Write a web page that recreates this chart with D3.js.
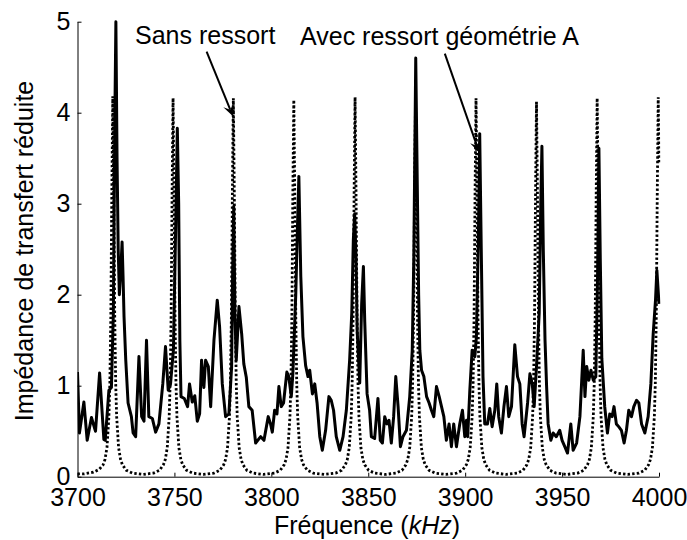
<!DOCTYPE html>
<html><head><meta charset="utf-8">
<script src="https://cdn.jsdelivr.net/npm/d3@7"></script>
<style>
body{margin:0;background:#fff}
svg{display:block}
text{font-family:"Liberation Sans",Arial,sans-serif;fill:#000}
</style>
</head><body>
<svg id="chart" width="687" height="540"></svg>
<script>
// ---------- data ----------
const xTicks = [3700, 3750, 3800, 3850, 3900, 3950, 4000];
const xTickLabels = ["3700", "3750", "3800", "3850", "3900", "3950", "4000"];
const yTicks = [0, 1, 2, 3, 4, 5];
const yTickLabels = ["0", "1", "2", "3", "4", "5"];
const yTitle = "Impédance de transfert réduite";
const xTitleMain = "Fréquence (";
const xTitleUnit = "kHz";
const xTitleEnd = ")";
const seriesNames = ["Sans ressort", "Avec ressort géométrie A"];

// "Sans ressort" (dotted) : [frequency kHz, reduced impedance]
const sansRessort = [
[3700,0.03],[3703,0.03],[3708.2,0.05],[3711.2,0.08],[3713.2,0.13],[3714.2,0.19],[3715.2,0.32],[3716.2,0.66],[3716.7,1.03],[3717.2,1.77],[3717.7,3.10],[3718.2,4.18],[3718.7,3.10],[3719.2,1.77],[3719.7,1.03],[3720.2,0.66],[3721.2,0.32],[3722.2,0.19],[3723.2,0.13],[3725.2,0.07],[3728.2,0.04],[3733.75,0.025],
[3739.3,0.04],[3742.3,0.07],[3744.3,0.13],[3745.3,0.19],[3746.3,0.32],[3747.3,0.66],[3747.8,1.03],[3748.3,1.77],[3748.8,3.10],[3749.3,4.16],[3749.8,3.10],[3750.3,1.77],[3750.8,1.03],[3751.3,0.66],[3752.3,0.32],[3753.3,0.19],[3754.3,0.13],[3756.3,0.07],[3759.3,0.04],[3764.85,0.025],
[3770.4,0.04],[3773.4,0.07],[3775.4,0.13],[3776.4,0.19],[3777.4,0.32],[3778.4,0.66],[3778.9,1.03],[3779.4,1.77],[3779.9,3.10],[3780.4,4.16],[3780.9,3.10],[3781.4,1.77],[3781.9,1.03],[3782.4,0.66],[3783.4,0.32],[3784.4,0.19],[3785.4,0.13],[3787.4,0.07],[3790.4,0.04],[3796.0,0.025],
[3801.6,0.04],[3804.6,0.07],[3806.6,0.13],[3807.6,0.19],[3808.6,0.32],[3809.6,0.66],[3810.1,1.03],[3810.6,1.77],[3811.1,3.10],[3811.6,4.14],[3812.1,3.10],[3812.6,1.77],[3813.1,1.03],[3813.6,0.66],[3814.6,0.32],[3815.6,0.19],[3816.6,0.13],[3818.6,0.07],[3821.6,0.04],[3827.4,0.025],
[3833.2,0.04],[3836.2,0.07],[3838.2,0.13],[3839.2,0.19],[3840.2,0.32],[3841.2,0.66],[3841.7,1.03],[3842.2,1.77],[3842.7,3.10],[3843.2,4.17],[3843.7,3.10],[3844.2,1.77],[3844.7,1.03],[3845.2,0.66],[3846.2,0.32],[3847.2,0.19],[3848.2,0.13],[3850.2,0.07],[3853.2,0.04],[3858.8,0.025],
[3864.4,0.04],[3867.4,0.07],[3869.4,0.13],[3870.4,0.19],[3871.4,0.32],[3872.4,0.66],[3872.9,1.03],[3873.4,1.77],[3873.9,3.10],[3874.4,4.15],[3874.9,3.10],[3875.4,1.77],[3875.9,1.03],[3876.4,0.66],[3877.4,0.32],[3878.4,0.19],[3879.4,0.13],[3881.4,0.07],[3884.4,0.04],[3890.0,0.025],
[3895.6,0.04],[3898.6,0.07],[3900.6,0.13],[3901.6,0.19],[3902.6,0.32],[3903.6,0.66],[3904.1,1.03],[3904.6,1.77],[3905.1,3.10],[3905.6,4.16],[3906.1,3.10],[3906.6,1.77],[3907.1,1.03],[3907.6,0.66],[3908.6,0.32],[3909.6,0.19],[3910.6,0.13],[3912.6,0.07],[3915.6,0.04],[3921.2,0.025],
[3926.8,0.04],[3929.8,0.07],[3931.8,0.13],[3932.8,0.19],[3933.8,0.32],[3934.8,0.66],[3935.3,1.03],[3935.8,1.77],[3936.3,3.10],[3936.8,4.12],[3937.3,3.10],[3937.8,1.77],[3938.3,1.03],[3938.8,0.66],[3939.8,0.32],[3940.8,0.19],[3941.8,0.13],[3943.8,0.07],[3946.8,0.04],[3952.45,0.025],
[3958.1,0.04],[3961.1,0.07],[3963.1,0.13],[3964.1,0.19],[3965.1,0.32],[3966.1,0.66],[3966.6,1.03],[3967.1,1.77],[3967.6,3.10],[3968.1,4.16],[3968.6,3.10],[3969.1,1.77],[3969.6,1.03],[3970.1,0.66],[3971.1,0.32],[3972.1,0.19],[3973.1,0.13],[3975.1,0.07],[3978.1,0.04],[3983.85,0.025],
[3989.6,0.04],[3992.6,0.07],[3994.6,0.13],[3995.6,0.19],[3996.6,0.32],[3997.6,0.66],[3998.1,1.03],[3998.6,1.77],[3999.1,3.10],[3999.6,4.17],[4000,3.43]
];

// "Avec ressort géométrie A" (solid) : [frequency kHz, reduced impedance]
const avecRessort = [
[3700.0,1.15],[3701.0,0.48],[3703.3,0.82],[3705.0,0.40],[3707.2,0.65],[3709.3,0.50],[3711.4,1.14],[3713.6,0.41],[3714.3,0.40],[3716.2,0.95],[3717.5,0.98],[3718.5,1.80],[3719.3,4.00],[3719.8,5.00],[3720.4,3.50],[3721.0,2.50],[3721.6,2.00],[3722.4,2.30],[3723.0,2.58],[3723.5,2.20],[3724.0,1.76],[3724.9,1.28],[3726.1,0.81],[3727.8,0.66],[3728.7,0.48],[3730.0,0.44],[3731.7,1.32],[3733.1,0.66],[3734.3,0.61],[3735.6,1.50],[3736.8,0.66],[3738.6,0.64],[3740.3,0.49],[3742.0,0.58],[3744.0,1.02],[3745.4,1.43],[3746.8,0.95],[3748.0,1.02],[3749.5,1.40],[3750.7,2.80],[3751.5,3.83],[3752.2,3.00],[3752.8,1.50],[3753.4,0.88],[3755.1,0.86],[3756.8,0.77],[3757.8,1.02],[3759.2,0.82],[3760.5,0.89],[3761.8,0.61],[3763.0,0.69],[3764.0,1.28],[3765.2,0.98],[3766.1,1.28],[3767.5,1.21],[3768.7,0.77],[3770.4,1.50],[3772.1,1.94],[3773.3,1.65],[3774.7,1.02],[3776.4,0.66],[3778.1,0.69],[3779.5,1.20],[3780.0,2.20],[3780.6,2.97],[3781.2,1.80],[3781.9,1.28],[3783.3,1.87],[3784.7,1.57],[3785.8,1.24],[3787.1,1.09],[3788.4,0.77],[3790.1,0.73],[3791.9,0.37],[3794.5,0.44],[3796.2,0.40],[3798.4,0.66],[3799.6,0.58],[3800.5,0.49],[3801.7,0.73],[3802.9,0.69],[3803.9,0.99],[3805.1,0.77],[3806.3,0.81],[3808.0,1.15],[3809.0,1.10],[3810.3,0.88],[3811.1,1.13],[3812.6,2.00],[3813.3,2.60],[3814.2,3.30],[3815.2,2.20],[3816.3,1.54],[3817.7,1.22],[3818.9,1.10],[3819.8,1.17],[3821.2,0.91],[3822.4,1.02],[3823.6,0.81],[3825.0,0.44],[3826.3,0.29],[3828.0,0.51],[3829.7,0.88],[3830.9,0.84],[3832.1,0.73],[3833.5,0.44],[3835.3,0.29],[3837.0,0.44],[3838.7,0.73],[3840.4,1.28],[3841.5,1.80],[3842.3,2.60],[3843.0,2.89],[3843.7,2.40],[3844.3,1.60],[3845.6,1.03],[3846.6,1.90],[3847.5,2.31],[3848.2,1.70],[3849.4,0.91],[3850.7,0.73],[3851.6,0.44],[3853.3,0.42],[3855.0,0.86],[3856.2,0.40],[3857.3,0.37],[3858.5,0.66],[3859.6,0.58],[3860.7,0.62],[3861.9,0.37],[3863.1,0.66],[3864.2,1.10],[3865.4,0.77],[3866.6,0.33],[3867.9,0.44],[3869.7,0.51],[3871.4,0.88],[3872.7,1.39],[3873.5,2.40],[3874.5,4.60],[3875.3,3.20],[3876.0,2.00],[3876.6,1.39],[3877.5,1.17],[3878.7,1.10],[3880.1,0.88],[3881.4,0.81],[3882.6,0.73],[3883.8,0.66],[3885.2,0.99],[3886.6,0.88],[3887.8,0.77],[3889.0,0.66],[3890.3,0.40],[3891.7,0.58],[3892.9,0.33],[3894.1,0.58],[3895.5,0.33],[3897.2,0.58],[3898.6,0.73],[3899.8,0.44],[3900.7,0.62],[3901.3,0.44],[3902.4,0.95],[3903.6,1.39],[3905.0,1.32],[3905.8,1.54],[3906.8,2.60],[3907.5,3.77],[3908.3,2.50],[3909.2,1.10],[3910.1,0.58],[3911.5,0.58],[3912.7,0.75],[3913.9,0.55],[3915.3,0.73],[3916.3,1.02],[3917.3,0.66],[3918.7,0.48],[3920.0,0.77],[3921.3,0.99],[3922.5,0.66],[3923.9,0.77],[3925.6,1.45],[3927.0,1.10],[3928.2,1.02],[3929.4,0.58],[3930.4,0.44],[3932.2,0.81],[3933.4,1.13],[3934.6,1.02],[3935.6,0.77],[3936.8,1.21],[3938.2,1.80],[3939.0,3.00],[3939.6,3.63],[3940.3,2.50],[3941.2,1.50],[3942.0,1.00],[3942.8,0.58],[3944.2,0.40],[3945.4,0.48],[3947.0,0.44],[3948.8,0.51],[3950.0,0.40],[3951.4,0.33],[3952.8,0.26],[3954.5,0.58],[3955.7,0.29],[3957.5,0.37],[3959.2,0.66],[3960.9,1.39],[3961.8,0.88],[3962.7,1.21],[3963.8,1.06],[3964.9,1.17],[3966.1,1.06],[3967.4,1.10],[3968.3,2.20],[3969.0,3.61],[3969.7,2.40],[3970.5,1.30],[3972.0,0.77],[3973.4,0.48],[3974.6,0.69],[3975.8,0.66],[3976.8,0.77],[3978.0,0.58],[3979.2,0.55],[3980.6,0.51],[3982.0,0.37],[3983.2,0.51],[3984.4,0.73],[3985.8,0.66],[3987.0,0.77],[3988.4,0.84],[3989.6,0.81],[3991.0,0.58],[3992.7,0.48],[3994.4,0.66],[3995.8,1.02],[3997.0,1.57],[3998.2,1.94],[3998.9,2.27],[3999.4,2.10],[4000.0,1.90]
];

// annotation arrows in data units: [tailF, tailZ, tipF, tipZ]
const sansArrow = [3766.6, 4.67, 3780.2, 3.96];
const avecArrow = [3889.5, 4.65, 3907.3, 3.56];

// ---------- drawing ----------
const svg = d3.select("#chart");
const x = d3.scaleLinear().domain([3700, 4000]).range([77.5, 659]);
const y = d3.scaleLinear().domain([0, 5]).range([476.7, 21.7]);

svg.append("defs").append("clipPath").attr("id","clip")
  .append("rect").attr("x",77.5).attr("y",19).attr("width",583).attr("height",459);

const line = d3.line().x(d => x(d[0])).y(d => y(d[1]));
const plot = svg.append("g").attr("clip-path","url(#clip)");

plot.append("path").datum(avecRessort).attr("d", line)
  .attr("fill","none").attr("stroke","#000").attr("stroke-width",3)
  .attr("stroke-linejoin","round");

plot.append("path").datum(sansRessort).attr("d", line)
  .attr("fill","none").attr("stroke","#000").attr("stroke-width",2.8)
  .attr("stroke-dasharray","2.4,2.2");

// axes
const fs = 25;
const xAxis = d3.axisBottom(x).tickValues(xTicks)
  .tickFormat((d,i) => xTickLabels[i]).tickSize(-4).tickSizeOuter(0).tickPadding(12);
const gx = svg.append("g").attr("transform","translate(0,476.7)").call(xAxis);
const yAxis = d3.axisLeft(y).tickValues(yTicks)
  .tickFormat((d,i) => yTickLabels[i]).tickSize(-4).tickSizeOuter(0).tickPadding(7);
const gy = svg.append("g").attr("transform","translate(77.5,0)").call(yAxis);
[gx, gy].forEach(g => {
  g.selectAll("text").attr("font-size", fs).attr("font-family",'"Liberation Sans",Arial,sans-serif').attr("fill","#000");
  g.selectAll("path,line").attr("stroke","#000").attr("stroke-width",1);
  g.attr("font-size", fs);
});
gy.selectAll("text").attr("dy","0.3em");

// axis titles
svg.append("text").attr("transform","translate(33,251) rotate(-90)")
  .attr("text-anchor","middle").attr("font-size",fs).text(yTitle);
const xt = svg.append("text").attr("x",367).attr("y",534)
  .attr("text-anchor","middle").attr("font-size",fs);
xt.append("tspan").text(xTitleMain);
xt.append("tspan").attr("font-style","italic").text(xTitleUnit);
xt.append("tspan").text(xTitleEnd);

// annotations
svg.append("text").attr("x",135).attr("y",43.5).attr("font-size",fs).text(seriesNames[0]);
svg.append("text").attr("x",300).attr("y",45).attr("font-size",fs).text(seriesNames[1]);

function arrow(a){
  const x0 = x(a[0]), y0 = y(a[1]), x1 = x(a[2]), y1 = y(a[3]);
  const dx = x1-x0, dy = y1-y0, L = Math.hypot(dx,dy);
  const ux = dx/L, uy = dy/L, nx = -uy, ny = ux;
  const hl = 12, hw = 5.5;
  svg.append("line").attr("x1",x0).attr("y1",y0)
    .attr("x2",x1-ux*hl*0.6).attr("y2",y1-uy*hl*0.6)
    .attr("stroke","#000").attr("stroke-width",2);
  const p = [
    [x1,y1],
    [x1-ux*hl+nx*hw, y1-uy*hl+ny*hw],
    [x1-ux*hl*0.6, y1-uy*hl*0.6],
    [x1-ux*hl-nx*hw, y1-uy*hl-ny*hw]
  ];
  svg.append("path").attr("d","M"+p.map(q=>q.join(",")).join("L")+"Z").attr("fill","#000");
}
arrow(sansArrow);
arrow(avecArrow);
</script>
</body></html>
